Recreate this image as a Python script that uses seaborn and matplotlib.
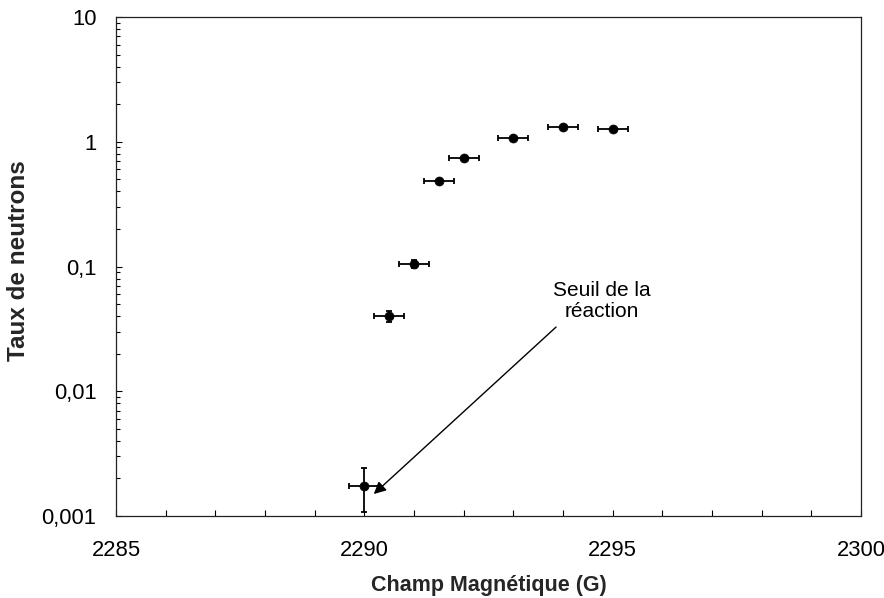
import matplotlib
matplotlib.use("Agg")
import matplotlib.pyplot as plt
import seaborn as sns
import pandas as pd
from matplotlib.ticker import FixedLocator, MultipleLocator, LogLocator, NullFormatter

# Magnetic field (G) and neutron rate measurements
champ = [2290.0, 2290.5, 2291.0, 2291.5, 2292.0, 2293.0, 2294.0, 2295.0]
taux = [0.00174, 0.040, 0.105, 0.482, 0.741, 1.08, 1.32, 1.27]
err_champ = [0.3, 0.3, 0.3, 0.3, 0.3, 0.3, 0.3, 0.3]
err_taux = [0.00067, 0.0042, 0.008, 0.0, 0.0, 0.0, 0.0, 0.0]

x_ticks = [2285, 2290, 2295, 2300]
x_tick_labels = ["2285", "2290", "2295", "2300"]
y_ticks = [0.001, 0.01, 0.1, 1, 10]
y_tick_labels = ["0,001", "0,01", "0,1", "1", "10"]

df = pd.DataFrame({"champ": champ, "taux": taux})

sns.set_theme(style="white")
plt.rcParams["font.family"] = ["Liberation Sans", "DejaVu Sans"]

fig = plt.figure(figsize=(8.84, 5.98), dpi=100)
ax = fig.add_axes([116 / 884, 1 - 516 / 598, 745 / 884, 499 / 598])

ax.errorbar(champ, taux, xerr=err_champ, yerr=err_taux, fmt="none",
            ecolor="black", elinewidth=1.3, capsize=2.5, capthick=1.3, zorder=2)
sns.scatterplot(data=df, x="champ", y="taux", ax=ax, color="black",
                s=42, marker="o", edgecolor="black", linewidth=0.5, zorder=3)

ax.set_yscale("log")
ax.set_xlim(2285, 2300)
ax.set_ylim(0.001, 10)

ax.xaxis.set_major_locator(FixedLocator(x_ticks))
ax.set_xticklabels(x_tick_labels)
ax.xaxis.set_minor_locator(MultipleLocator(1))
ax.yaxis.set_major_locator(FixedLocator(y_ticks))
ax.set_yticklabels(y_tick_labels)
ax.yaxis.set_minor_locator(LogLocator(base=10, subs=range(2, 10)))
ax.yaxis.set_minor_formatter(NullFormatter())

ax.tick_params(axis="both", which="both", direction="in", color="black",
               labelsize=15.8, labelcolor="black")
ax.tick_params(axis="x", which="both", length=4, width=0.8, pad=17,
               bottom=True, top=False)
ax.tick_params(axis="y", which="major", length=4, width=0.8, pad=14,
               left=True, right=False)
ax.tick_params(axis="y", which="minor", length=3, width=0.8,
               left=True, right=False)

for side in ["left", "right", "top", "bottom"]:
    ax.spines[side].set_visible(True)
    ax.spines[side].set_color("#222222")
    ax.spines[side].set_linewidth(0.9)
ax.grid(False)

ax.set_xlabel("Champ Magnétique (G)", fontsize=15.5, fontweight="bold",
              labelpad=10)
ax.set_ylabel("Taux de neutrons", fontsize=17.5, fontweight="bold",
              labelpad=12)
ax.yaxis.set_label_coords(-0.115, 0.512)

ax.text(2294.78, 0.0529, "Seuil de la\nréaction", ha="center", va="center",
        fontsize=15, linespacing=1.1, color="black")
ax.annotate("", xy=(2290.19, 0.0015), xytext=(2293.86, 0.0327),
            arrowprops=dict(arrowstyle="-|>", color="black", lw=1.0,
                            mutation_scale=18, shrinkA=0, shrinkB=0))

fig.savefig("out.png", dpi=100)
